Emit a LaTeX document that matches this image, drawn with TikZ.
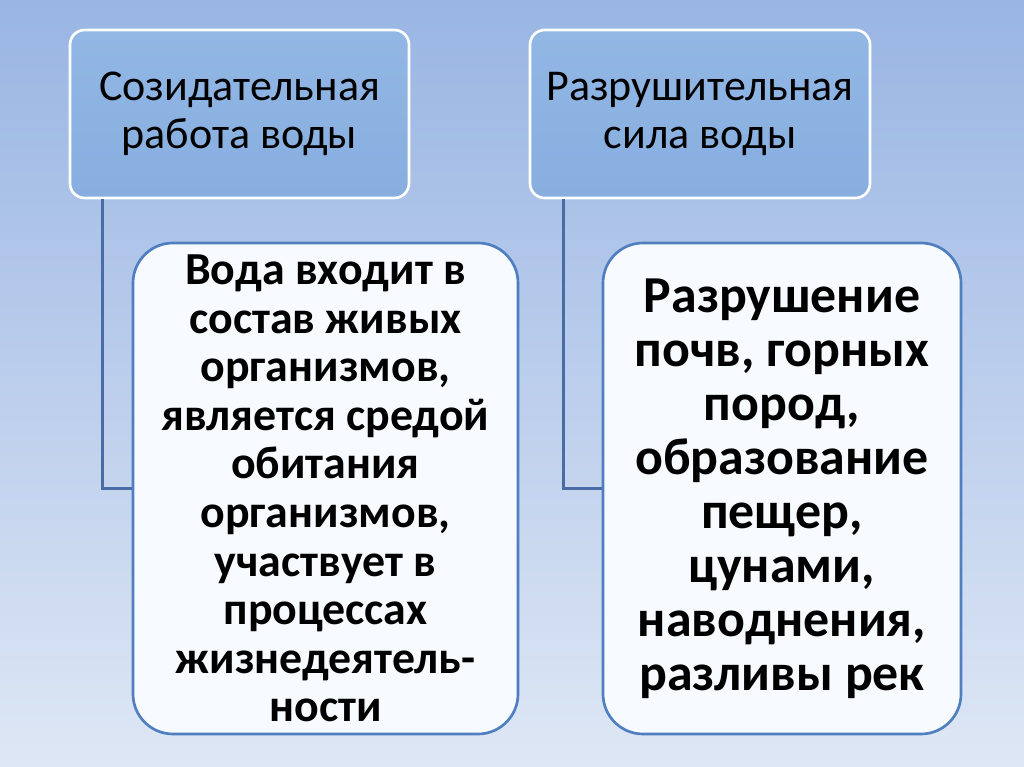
\documentclass[tikz,border=0pt]{standalone}
\usepackage{fontspec}
\setmainfont{Carlito}
\usetikzlibrary{calc}
\definecolor{bgtop}{HTML}{99B5E3}
\definecolor{bgbot}{HTML}{DEE7F5}
\definecolor{headtop}{HTML}{92B7E5}
\definecolor{headbot}{HTML}{87AEDF}
\definecolor{bodyfill}{HTML}{F7FAFE}
\definecolor{bodyline}{HTML}{4F7FC0}
\definecolor{connline}{HTML}{4A6CA4}
\tikzset{
  headbox/.style={draw=white, line width=2pt, rounded corners=11pt,
    top color=headtop, bottom color=headbot,
    minimum height=126pt, align=center, inner sep=0pt,
    font=\fontsize{33}{35.5}\selectfont},
  bodybox/.style={draw=bodyline, line width=2pt, rounded corners=30pt,
    fill=bodyfill, minimum height=368.25pt, align=center, inner sep=0pt},
  conn/.style={draw=connline, line width=2pt}
}
\begin{document}
\begin{tikzpicture}[x=0.75pt,y=0.75pt]
\shade[top color=bgtop, bottom color=bgbot] (0,0) rectangle (1024,767);
\useasboundingbox (0,0) rectangle (1024,767);
\node[headbox, minimum width=254.25pt] (t1) at (239.5,653) {Созидательная\\работа воды};
\node[headbox, minimum width=255pt] (t2) at (700,653) {Разрушительная\\сила воды};
\node[bodybox, minimum width=288.75pt, font=\fontsize{34.4}{36.4}\selectfont\bfseries] (b1) at (325.5,278.5)
  {Вода входит в\\состав живых\\организмов,\\является средой\\обитания\\организмов,\\участвует в\\процессах\\жизнедеятель-\\ности};
\node[bodybox, minimum width=268.5pt, font=\fontsize{38.9}{40.5}\selectfont\bfseries] (b2) at (782,278.5)
  {Разрушение\\почв, горных\\пород,\\образование\\пещер,\\цунами,\\наводнения,\\разливы рек};
\draw[conn] ($(t1.south west)+(34,0)$) |- (b1.west);
\draw[conn] ($(t2.south west)+(35,0)$) |- (b2.west);
\end{tikzpicture}
\end{document}
